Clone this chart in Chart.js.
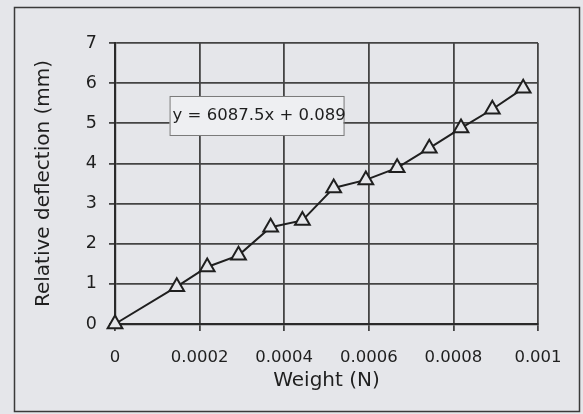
<!DOCTYPE html>
<html>
<head>
<meta charset="utf-8">
<script src="https://cdn.jsdelivr.net/npm/chart.js@4/dist/chart.umd.min.js"></script>
<style>
  html, body { margin: 0; padding: 0; background: #e5e6ea; }
  canvas { display: block; }
</style>
</head>
<body>
<canvas id="chart" width="583" height="414"></canvas>
<script>
// данные
const weights = [0, 0.000146, 0.000218, 0.000292, 0.000368, 0.000443, 0.000517,
                 0.000593, 0.000667, 0.000743, 0.000818, 0.000892, 0.000965];
const deflections = [0, 0.93, 1.42, 1.71, 2.41, 2.58, 3.39, 3.59, 3.89, 4.38, 4.88, 5.35, 5.87];
const xTickLabels = ['0', '0.0002', '0.0004', '0.0006', '0.0008', '0.001'];
const yTickLabels = ['0', '1', '2', '3', '4', '5', '6', '7'];
const equation = 'y = 6087.5x + 0.089';

const bg = '#e5e6ea';
const ink = '#1f1f1f';
const font = 'DejaVu Sans, Verdana, sans-serif';

// рамка вокруг всего рисунка и подпись с уравнением тренда
const extras = {
    id: 'extras',
    beforeDraw(chart) {
        const c = chart.ctx;
        c.save();
        c.fillStyle = bg;
        c.fillRect(0, 0, chart.width, chart.height);
        c.restore();
    },
    afterDraw(chart) {
        const c = chart.ctx;
        const x = chart.scales.x, y = chart.scales.y;
        c.save();
        c.strokeStyle = '#3a3a3a';
        c.lineWidth = 1.5;
        c.strokeRect(14.5, 7.5, 565, 404);

        const bx = x.getPixelForValue(0.000129);
        const by = y.getPixelForValue(5.68);
        c.fillStyle = '#eeeff2';
        c.fillRect(bx, by, 174, 39);
        c.strokeStyle = '#7a7a7a';
        c.lineWidth = 1;
        c.strokeRect(bx + 0.5, by + 0.5, 174, 39);
        c.fillStyle = ink;
        c.font = '16.5px ' + font;
        c.textBaseline = 'middle';
        c.fillText(equation, bx + 3, by + 20);
        c.restore();
    }
};

new Chart(document.getElementById('chart'), {
    type: 'scatter',
    data: {
        datasets: [{
            data: weights.map((w, i) => ({ x: w, y: deflections[i] })),
            showLine: true,
            clip: false,
            borderColor: ink,
            borderWidth: 2,
            pointStyle: 'triangle',
            pointRadius: 8.5,
            pointBorderWidth: 2,
            pointBackgroundColor: bg,
            pointBorderColor: ink
        }]
    },
    options: {
        responsive: false,
        animation: false,
        layout: { padding: { top: 43, right: 45, left: 0, bottom: 0 } },
        plugins: { legend: { display: false }, tooltip: { enabled: false } },
        scales: {
            x: {
                type: 'linear',
                min: 0,
                max: 0.001,
                afterFit: s => { s.height = 90; },
                afterBuildTicks: s => {
                    s.ticks = xTickLabels.map(t => ({ value: parseFloat(t) }));
                },
                grid: { color: '#444', lineWidth: 1.8, tickLength: 7 },
                border: { color: '#2a2a2a', width: 2.2 },
                ticks: {
                    color: ink,
                    padding: 17,
                    maxRotation: 0,
                    font: { family: font, size: 16.5 },
                    callback: (v, i) => xTickLabels[i]
                },
                title: {
                    display: true,
                    text: 'Weight (N)',
                    color: ink,
                    font: { family: font, size: 20 },
                    padding: { bottom: 21 }
                }
            },
            y: {
                min: 0,
                max: 7,
                afterFit: s => { s.width = 115; },
                grid: { color: '#444', lineWidth: 1.8, tickLength: 6 },
                border: { color: '#2a2a2a', width: 2.2 },
                ticks: {
                    stepSize: 1,
                    color: ink,
                    padding: 12,
                    font: { family: font, size: 17.5 },
                    callback: (v, i) => yTickLabels[i]
                },
                title: {
                    display: true,
                    text: 'Relative deflection (mm)',
                    color: ink,
                    font: { family: font, size: 20 },
                    padding: { top: 32 }
                }
            }
        }
    },
    plugins: [extras]
});
</script>
</body>
</html>
